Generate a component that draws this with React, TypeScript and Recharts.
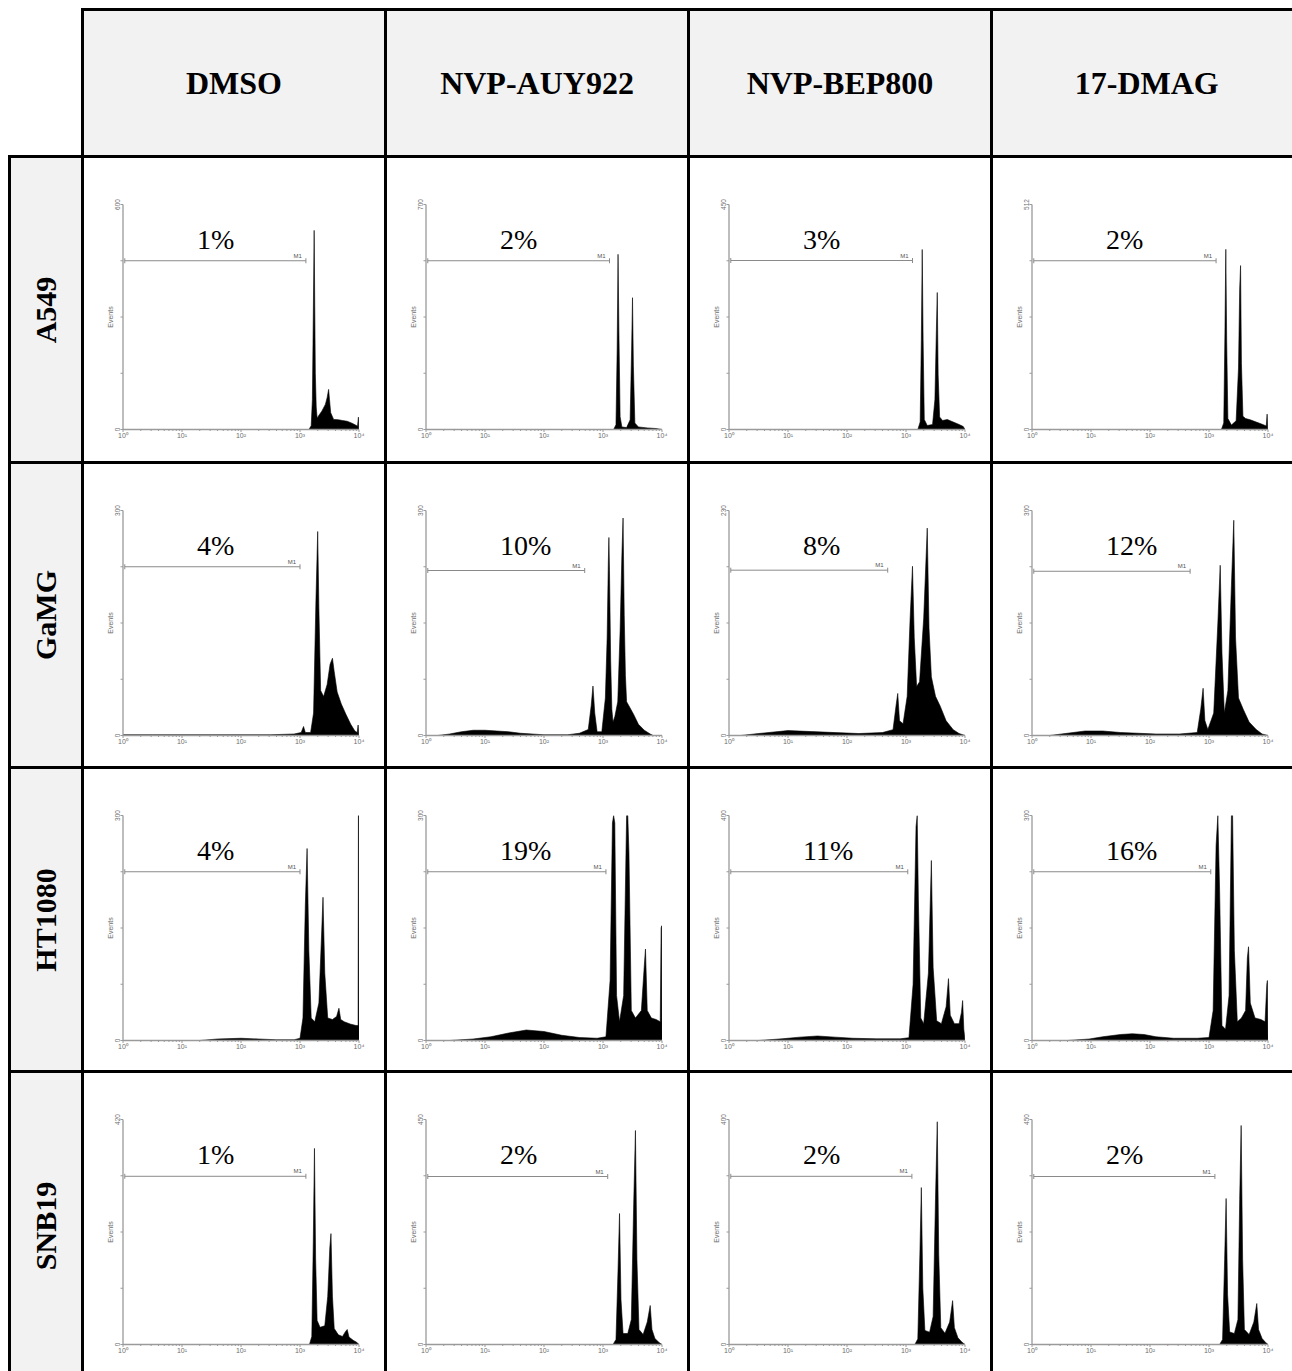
import React from 'react';
import { AreaChart, Area, XAxis, YAxis, ReferenceLine } from 'recharts';

type Pt = [number, number];

const columns = ['DMSO', 'NVP-AUY922', 'NVP-BEP800', '17-DMAG'];
const rows = ['A549', 'GaMG', 'HT1080', 'SNB19'];
const xTickLabels = ['10\u2070', '10\u00b9', '10\u00b2', '10\u00b3', '10\u2074'];

const yMax = [
  [600, 700, 450, 512],
  [300, 300, 230, 300],
  [300, 300, 400, 300],
  [420, 450, 400, 450],
];
const percentLabels = [
  ['1%', '2%', '3%', '2%'],
  ['4%', '10%', '8%', '12%'],
  ['4%', '19%', '11%', '16%'],
  ['1%', '2%', '2%', '2%'],
];
// M1 gate: right end (log10 of channel) and level (events)
const m1End = [
  [3.1, 3.11, 3.11, 3.12],
  [3.0, 2.69, 2.69, 2.68],
  [3.0, 3.05, 3.03, 3.03],
  [3.1, 3.08, 3.1, 3.1],
];
const m1Level = [
  [450, 525, 338, 384],
  [225, 220, 169, 219],
  [225, 225, 300, 225],
  [314, 336, 299, 336],
];

// histogram outlines: [log10(channel), events]
const a549Dmso: Pt[] = [[3.15,0],[3.19,10],[3.21,80],[3.225,300],[3.24,531],[3.25,330],[3.26,150],[3.275,60],[3.29,31],[3.33,40],[3.37,49],[3.43,67],[3.46,85],[3.485,107],[3.5,80],[3.52,45],[3.57,27],[3.65,26],[3.72,24],[3.8,22],[3.88,17],[3.94,12],[3.975,9],[3.99,33],[3.997,5],[4,0]];
const a549Auy: Pt[] = [[3.18,0],[3.22,15],[3.24,250],[3.255,545],[3.27,300],[3.29,40],[3.32,8],[3.4,6],[3.46,30],[3.485,250],[3.5,410],[3.515,200],[3.54,20],[3.6,8],[3.75,5],[3.9,3],[4,0]];
const a549Bep: Pt[] = [[3.2,0],[3.24,15],[3.26,180],[3.275,360],[3.29,180],[3.31,20],[3.36,8],[3.45,10],[3.49,60],[3.515,200],[3.53,274],[3.545,110],[3.57,25],[3.62,18],[3.7,20],[3.8,15],[3.9,10],[3.97,6],[4,0]];
const a549Dmag: Pt[] = [[3.21,0],[3.25,15],[3.27,220],[3.285,410],[3.3,200],[3.32,25],[3.38,10],[3.46,20],[3.5,140],[3.52,320],[3.535,373],[3.55,150],[3.575,30],[3.62,25],[3.7,22],[3.8,17],[3.9,12],[3.97,8],[3.985,35],[3.995,5],[4,0]];

const gamgDmso: Pt[] = [[0,1],[0.5,1],[1,1],[1.5,1],[2,1],[2.5,1],[2.9,2],[3.02,4],[3.06,12],[3.09,4],[3.18,4],[3.23,30],[3.27,180],[3.3,272],[3.32,170],[3.35,60],[3.4,52],[3.46,68],[3.51,95],[3.55,103],[3.58,85],[3.63,58],[3.7,42],[3.78,28],[3.86,15],[3.93,6],[3.97,4],[3.985,14],[3.995,3],[4,0]];
const gamgAuy: Pt[] = [[0.2,0],[0.4,2],[0.6,5],[0.8,7],[1,7],[1.2,6],[1.4,5],[1.6,3],[1.8,2],[2,1],[2.4,1],[2.6,3],[2.75,8],[2.8,40],[2.83,66],[2.86,30],[2.9,5],[2.98,5],[3.04,50],[3.07,130],[3.09,230],[3.1,264],[3.11,220],[3.13,100],[3.15,35],[3.17,18],[3.2,25],[3.25,45],[3.29,140],[3.32,240],[3.34,290],[3.36,160],[3.38,80],[3.4,45],[3.45,38],[3.52,28],[3.6,15],[3.7,7],[3.8,2],[3.85,0],[4,0]];
const gamgBep: Pt[] = [[0.2,0],[0.5,2],[1,5],[1.4,4],[1.8,3],[2.2,2],[2.6,3],[2.78,6],[2.83,30],[2.86,43],[2.89,15],[2.95,12],[3.02,40],[3.07,120],[3.11,173],[3.14,100],[3.18,50],[3.23,55],[3.3,120],[3.36,212],[3.39,110],[3.43,60],[3.5,40],[3.58,30],[3.68,15],[3.8,6],[3.9,2],[4,0]];
const gamgDmag: Pt[] = [[0.3,0],[0.6,3],[0.9,6],[1.2,6],[1.5,4],[1.8,3],[2.1,2],[2.5,2],[2.8,4],[2.86,35],[2.9,63],[2.93,20],[2.98,8],[3.08,30],[3.15,150],[3.19,227],[3.22,110],[3.26,30],[3.32,60],[3.38,200],[3.42,287],[3.45,130],[3.5,50],[3.58,35],[3.68,18],[3.8,8],[3.9,2],[4,0]];

const htDmso: Pt[] = [[1.3,0],[1.6,2],[2,3],[2.3,2],[2.6,1],[2.9,1],[3,3],[3.05,30],[3.09,180],[3.12,256],[3.15,120],[3.19,30],[3.25,25],[3.32,50],[3.37,150],[3.39,191],[3.42,90],[3.47,30],[3.55,28],[3.62,32],[3.66,43],[3.69,28],[3.75,25],[3.85,22],[3.95,20],[3.985,20],[3.99,300],[3.998,300],[4,0]];
const htAuy: Pt[] = [[0.4,0],[0.8,2],[1.1,5],[1.4,10],[1.7,14],[2,12],[2.3,7],[2.6,4],[2.9,3],[3.05,5],[3.12,80],[3.16,290],[3.18,300],[3.2,290],[3.23,60],[3.28,25],[3.35,60],[3.4,300],[3.42,300],[3.44,250],[3.48,40],[3.55,30],[3.65,40],[3.7,100],[3.72,122],[3.75,40],[3.82,30],[3.9,28],[3.97,25],[3.985,150],[3.995,153],[4,0]];
const htBep: Pt[] = [[0.5,0],[0.9,3],[1.2,6],[1.5,8],[1.8,6],[2.1,4],[2.5,3],[2.9,3],[3.05,5],[3.12,100],[3.17,380],[3.19,400],[3.21,250],[3.25,40],[3.3,30],[3.38,120],[3.43,320],[3.46,130],[3.52,35],[3.6,30],[3.68,60],[3.72,110],[3.75,45],[3.82,30],[3.9,30],[3.94,50],[3.96,71],[3.98,20],[4,0]];
const htDmag: Pt[] = [[0.6,0],[0.97,2],[1.2,5],[1.5,8],[1.7,9],[1.9,8],[2.1,5],[2.4,3],[2.8,3],[3,4],[3.07,40],[3.12,260],[3.15,300],[3.18,200],[3.22,20],[3.28,15],[3.34,60],[3.38,300],[3.4,300],[3.43,120],[3.48,25],[3.55,30],[3.62,40],[3.65,110],[3.67,125],[3.7,50],[3.78,30],[3.88,28],[3.95,25],[3.98,75],[3.99,80],[4,0]];

const snbDmso: Pt[] = [[3.16,0],[3.2,15],[3.225,190],[3.245,366],[3.265,160],[3.29,45],[3.34,32],[3.42,35],[3.47,90],[3.505,180],[3.525,207],[3.55,90],[3.58,30],[3.65,18],[3.72,15],[3.77,24],[3.8,28],[3.83,14],[3.9,8],[3.96,4],[4,0]];
const snbAuy: Pt[] = [[3.17,0],[3.22,10],[3.255,150],[3.28,262],[3.305,90],[3.34,22],[3.42,22],[3.48,50],[3.52,280],[3.55,428],[3.575,170],[3.61,30],[3.68,20],[3.75,45],[3.8,78],[3.83,30],[3.88,12],[3.95,4],[4,0]];
const snbBep: Pt[] = [[3.15,0],[3.2,10],[3.235,160],[3.26,279],[3.285,100],[3.32,25],[3.4,22],[3.46,50],[3.5,260],[3.53,396],[3.555,160],[3.59,30],[3.66,20],[3.74,40],[3.79,78],[3.82,30],[3.88,12],[3.95,4],[4,0]];
const snbDmag: Pt[] = [[3.18,0],[3.23,10],[3.265,170],[3.29,292],[3.315,100],[3.35,25],[3.43,22],[3.49,50],[3.52,290],[3.545,438],[3.57,170],[3.6,30],[3.68,20],[3.76,45],[3.81,82],[3.84,30],[3.9,12],[3.96,4],[4,0]];

const panelData: Pt[][][] = [
  [a549Dmso, a549Auy, a549Bep, a549Dmag],
  [gamgDmso, gamgAuy, gamgBep, gamgDmag],
  [htDmso, htAuy, htBep, htDmag],
  [snbDmso, snbAuy, snbBep, snbDmag],
];

// layout constants (page pixels)
const COL_LINES = [82.5, 385.5, 688.5, 991.5];
const ROW_LINES = [156.5, 462.5, 767.5, 1071.5];
const TOP_LINE = 9.5;
const LEFT_LINE = 9.5;
const PAGE_W = 1292;
const PAGE_H = 1371;
const LINE_W = 3;

const X_TICKS: number[] = (() => {
  const t: number[] = [];
  for (let d = 0; d < 4; d++) {
    t.push(d);
    for (let k = 2; k <= 9; k++) t.push(d + Math.log10(k));
  }
  t.push(4);
  return t;
})();

const FONT_SERIF = "'Liberation Serif', 'Times New Roman', Times, serif";
const FONT_SANS = "'Liberation Sans', Arial, Helvetica, sans-serif";
const AXIS = '#9a9a9a';
const TICK_TXT = '#6e6e6e';
const HEADER_BG = '#f2f2f2';

function XTick(props: any) {
  const { x, y, payload } = props;
  const v = payload.value as number;
  const idx = Math.round(v);
  const major = Math.abs(v - idx) < 1e-6;
  return (
    <g>
      <line x1={x} x2={x} y1={y} y2={y + (major ? 2.5 : 1.5)} stroke={AXIS} strokeWidth={1} />
      {major && (
        <text x={x} y={y + 8} textAnchor="middle" fontSize={7} fill={TICK_TXT} fontFamily={FONT_SANS}>
          {xTickLabels[idx]}
        </text>
      )}
    </g>
  );
}

function makeYTick(ymax: number) {
  return function YTick(props: any) {
    const { x, y, payload } = props;
    const v = payload.value as number;
    const show = v === 0 || v === ymax;
    return (
      <g>
        <line x1={x - 2.5} x2={x} y1={y} y2={y} stroke={AXIS} strokeWidth={1} />
        {show && (
          <text
            x={x - 3}
            y={y}
            transform={`rotate(-90 ${x - 3} ${y})`}
            textAnchor="middle"
            fontSize={6.5}
            fill={TICK_TXT}
            fontFamily={FONT_SANS}
          >
            {v}
          </text>
        )}
      </g>
    );
  };
}

const CHART_W = 298;
const CHART_H = 300;
const Y_AXIS_W = 39;
const X_AXIS_H = 20;
const MARGIN = { top: 46.5, right: 23, bottom: 8.5, left: 0 };
const PLOT_H = 225;

function Panel({ r, c }: { r: number; c: number }) {
  const ymax = yMax[r][c];
  const data = panelData[r][c].map(([x, y]) => ({ x, y }));
  const m1y = m1Level[r][c];
  const m1x0 = 0.03;
  const m1x1 = m1End[r][c];
  const cap = (ymax * 2.5) / PLOT_H;
  const pctY = ymax * (1 - 44.5 / PLOT_H);
  const yTicks = [0, ymax / 4, ymax / 2, (3 * ymax) / 4, ymax];
  return (
    <div
      style={{
        position: 'absolute',
        left: COL_LINES[c] + LINE_W / 2,
        top: ROW_LINES[r] + LINE_W / 2,
        width: CHART_W,
        height: CHART_H,
      }}
    >
      <AreaChart width={CHART_W} height={CHART_H} data={data} margin={MARGIN}>
        <XAxis
          dataKey="x"
          type="number"
          domain={[0, 4]}
          ticks={X_TICKS}
          interval={0}
          tick={<XTick />}
          tickLine={false}
          tickSize={0}
          tickMargin={0}
          height={X_AXIS_H}
          axisLine={{ stroke: AXIS, strokeWidth: 1.3 }}
          allowDataOverflow
        />
        <YAxis
          type="number"
          domain={[0, ymax]}
          ticks={yTicks}
          interval={0}
          tick={makeYTick(ymax)}
          tickLine={false}
          tickSize={0}
          tickMargin={0}
          width={Y_AXIS_W}
          axisLine={{ stroke: AXIS, strokeWidth: 1.3 }}
          allowDataOverflow
          label={(p: any) => {
            const vb = p.viewBox || {};
            const lx = (vb.x ?? 0) + (vb.width ?? Y_AXIS_W) - 10;
            const ly = (vb.y ?? MARGIN.top) + (vb.height ?? PLOT_H) / 2;
            return (
              <text
                x={lx}
                y={ly}
                transform={`rotate(-90 ${lx} ${ly})`}
                textAnchor="middle"
                fontSize={7}
                fill={TICK_TXT}
                fontFamily={FONT_SANS}
              >
                Events
              </text>
            );
          }}
        />
        <Area
          type="linear"
          dataKey="y"
          stroke="#000"
          strokeWidth={0.6}
          fill="#000"
          fillOpacity={1}
          dot={false}
          activeDot={false}
          isAnimationActive={false}
        />
        <ReferenceLine
          segment={[{ x: m1x0, y: m1y }, { x: m1x1, y: m1y }]}
          stroke="#8a8a8a"
          strokeWidth={1}
          ifOverflow="visible"
          label={(p: any) => {
            const vb = p.viewBox || {};
            return (
              <text
                x={(vb.x ?? 0) + (vb.width ?? 0) - 4}
                y={(vb.y ?? 0) - 3}
                textAnchor="end"
                fontSize={6}
                fill="#555"
                fontFamily={FONT_SANS}
              >
                M1
              </text>
            );
          }}
        />
        <ReferenceLine
          segment={[{ x: m1x0, y: m1y - cap }, { x: m1x0, y: m1y + cap }]}
          stroke="#8a8a8a"
          strokeWidth={1}
          ifOverflow="visible"
        />
        <ReferenceLine
          segment={[{ x: m1x1, y: m1y - cap }, { x: m1x1, y: m1y + cap }]}
          stroke="#8a8a8a"
          strokeWidth={1}
          ifOverflow="visible"
        />
        <ReferenceLine
          segment={[{ x: 1.254, y: pctY }, { x: 1.3, y: pctY }]}
          stroke="none"
          ifOverflow="visible"
          label={(p: any) => {
            const vb = p.viewBox || {};
            return (
              <text
                x={vb.x ?? 0}
                y={vb.y ?? 0}
                textAnchor="start"
                fontSize={28}
                fill="#000"
                fontFamily={FONT_SERIF}
              >
                {percentLabels[r][c]}
              </text>
            );
          }}
        />
      </AreaChart>
    </div>
  );
}

function Line({ x, y, w, h }: { x: number; y: number; w: number; h: number }) {
  return <div style={{ position: 'absolute', left: x, top: y, width: w, height: h, background: '#000' }} />;
}

export default function App() {
  const half = LINE_W / 2;
  const colEdges = [...COL_LINES, PAGE_W + 10];
  const rowEdges = [...ROW_LINES, PAGE_H + 10];
  return (
    <div
      style={{
        position: 'absolute',
        left: 0,
        top: 0,
        width: PAGE_W,
        height: PAGE_H,
        overflow: 'hidden',
        background: '#fff',
      }}
    >
      {/* column headers */}
      {columns.map((name, c) => (
        <div
          key={name}
          style={{
            position: 'absolute',
            left: colEdges[c] + half,
            top: TOP_LINE + half,
            width: colEdges[c + 1] - colEdges[c] - LINE_W,
            height: ROW_LINES[0] - TOP_LINE - LINE_W,
            background: HEADER_BG,
            display: 'flex',
            alignItems: 'center',
            justifyContent: 'center',
            fontFamily: FONT_SERIF,
            fontWeight: 'bold',
            fontSize: 32,
            color: '#000',
          }}
        >
          {name}
        </div>
      ))}
      {/* row headers */}
      {rows.map((name, r) => (
        <div
          key={name}
          style={{
            position: 'absolute',
            left: LEFT_LINE + half,
            top: rowEdges[r] + half,
            width: COL_LINES[0] - LEFT_LINE - LINE_W,
            height: rowEdges[r + 1] - rowEdges[r] - LINE_W,
            background: HEADER_BG,
            display: 'flex',
            alignItems: 'center',
            justifyContent: 'center',
          }}
        >
          <div
            style={{
              transform: 'rotate(-90deg)',
              whiteSpace: 'nowrap',
              fontFamily: FONT_SERIF,
              fontWeight: 'bold',
              fontSize: 30,
              color: '#000',
            }}
          >
            {name}
          </div>
        </div>
      ))}
      {/* histograms */}
      {rows.map((_, r) => columns.map((__, c) => <Panel key={`${r}-${c}`} r={r} c={c} />))}
      {/* grid lines */}
      <Line x={COL_LINES[0] - half} y={TOP_LINE - half} w={PAGE_W} h={LINE_W} />
      {ROW_LINES.map((y) => (
        <Line key={`h${y}`} x={LEFT_LINE - half} y={y - half} w={PAGE_W} h={LINE_W} />
      ))}
      <Line x={LEFT_LINE - half} y={ROW_LINES[0] - half} w={LINE_W} h={PAGE_H} />
      {COL_LINES.map((x) => (
        <Line key={`v${x}`} x={x - half} y={TOP_LINE - half} w={LINE_W} h={PAGE_H} />
      ))}
    </div>
  );
}
